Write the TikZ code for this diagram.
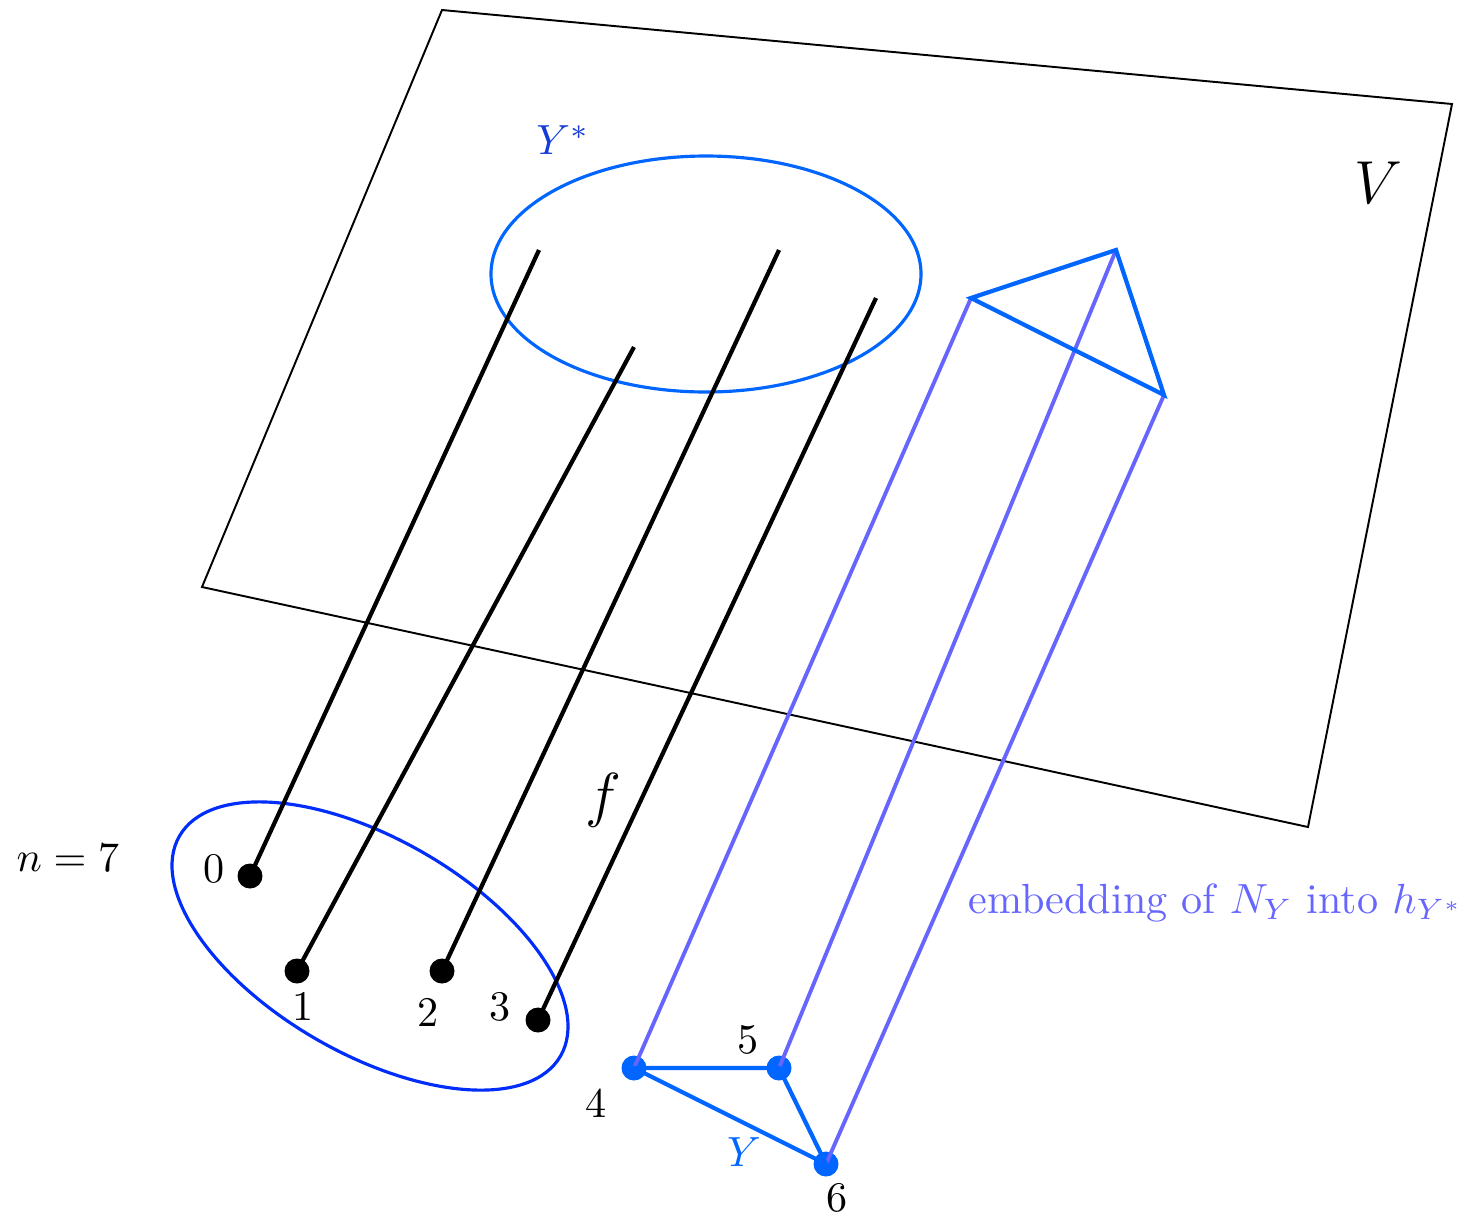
\documentclass[tikz,border=0pt]{standalone}
\usepackage{tikz}
\usetikzlibrary{positioning}

\definecolor{ylight}{RGB}{0,102,255}
\definecolor{ydark}{RGB}{20,60,215}
\definecolor{nblue}{RGB}{0,45,250}
\definecolor{embcol}{RGB}{102,102,255}

\begin{document}
\begin{tikzpicture}[x=1cm, y=1cm,
    lab/.style={scale=2.4},
    dot/.style={circle, fill, inner sep=0pt, minimum size=5mm},
    fibre/.style={line width=2.4pt},
    emb/.style={embcol, line width=2.2pt},
    ygraph/.style={ylight, line width=2.4pt}]
  \useasboundingbox (0,0) rectangle (29.5,-24.38);

  % the plane V
  \draw[line width=1.1pt] (8.84,-0.2) -- (29.04,-2.08) -- (26.16,-16.54) -- (4.04,-11.74) -- cycle;
  \node[lab, font=\Large] (vlab) at (27.56,-3.66) {$V$};

  % Y* and the set of n points
  \draw[ylight, line width=1.8pt] (14.12,-5.48) ellipse [x radius=4.3, y radius=2.36];
  \node[lab, text=ydark] (ystar) at (11.26,-2.8) {$Y^*$};
  \draw[nblue, line width=1.8pt, rotate around={-30:(7.4,-18.92)}] (7.4,-18.92) ellipse [x radius=4.4, y radius=2.15];
  \node[lab] (nlab) at (1.36,-17.16) {$n=7$};

  \node[dot] (p0) at (5.0,-17.52) {};
  \node[dot] (p1) at (5.94,-19.42) {};
  \node[dot] (p2) at (8.84,-19.42) {};
  \node[dot] (p3) at (10.76,-20.4) {};
  \node[dot, ylight] (p4) at (12.68,-21.36) {};
  \node[dot, ylight] (p5) at (15.58,-21.36) {};
  \node[dot, ylight] (p6) at (16.52,-23.28) {};

  \node[lab] (l0) at (4.28,-17.38) {0};
  \node[lab] (l1) at (6.06,-20.12) {1};
  \node[lab] (l2) at (8.56,-20.24) {2};
  \node[lab] (l3) at (10.0,-20.14) {3};
  \node[lab] (l4) at (11.92,-22.06) {4};
  \node[lab] (l5) at (14.96,-20.8) {5};
  \node[lab] (l6) at (16.74,-23.96) {6};
  \node[lab, text=ylight] (ylab) at (14.88,-23.04) {$Y$};

  % images in V
  \coordinate (t0) at (10.78,-5.0);
  \coordinate (t1) at (12.68,-6.94);
  \coordinate (t2) at (15.58,-5.0);
  \coordinate (t3) at (17.52,-5.96);
  \coordinate (t4) at (19.42,-5.96);
  \coordinate (t5) at (22.32,-5.0);
  \coordinate (t6) at (23.28,-7.9);

  \draw[fibre] (p0.center) -- (t0);
  \draw[fibre] (p1.center) -- (t1);
  \draw[fibre] (p2.center) -- (t2);
  \draw[fibre] (p3.center) -- (t3);
  \node[lab, font=\Large] (flab) at (12.06,-16.0) {$f$};

  \draw[emb] (p4.center) -- (t4);
  \draw[emb] (p5.center) -- (t5);
  \draw[emb] (p6.center) -- (t6);
  \node[lab, text=embcol] (emblab) at (24.32,-18.06) {embedding of $N_Y$ into $h_{Y^*}$};

  % the graph Y and its copy
  \draw[ygraph] (p4.center) -- (p5.center) -- (p6.center) -- cycle;
  \draw[ygraph] (t4) -- (t5) -- (t6) -- cycle;
\end{tikzpicture}
\end{document}
